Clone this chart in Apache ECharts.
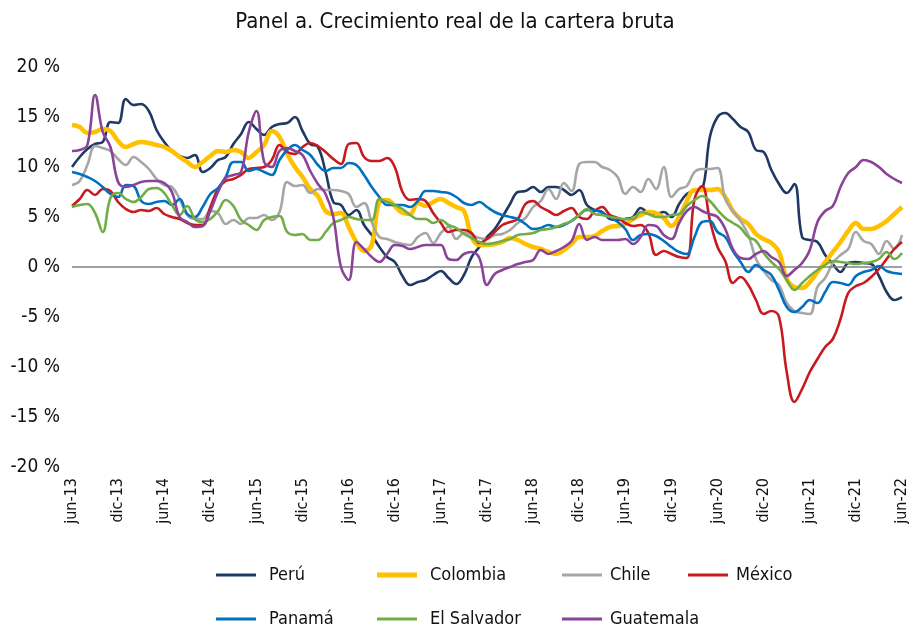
<!DOCTYPE html>
<html>
<head>
<meta charset="utf-8">
<script src="https://cdn.jsdelivr.net/npm/echarts@6/dist/echarts.min.js"></script>
<style>
  html, body { margin: 0; padding: 0; background: #fff; }
  #chart { width: 910px; height: 629px; }
</style>
</head>
<body>
<div id="chart"></div>
<script>
// month labels jun-13 ... jun-22
var monthNames = ['ene', 'feb', 'mar', 'abr', 'may', 'jun', 'jul', 'ago', 'sep', 'oct', 'nov', 'dic'];
var categories = [];
for (var k = 0; k < 109; k++) {
    var m = (5 + k) % 12;
    var y = 13 + Math.floor((5 + k) / 12);
    categories.push(monthNames[m] + '-' + y);
}

var peru = [
    10.0, 11.0, 11.8, 12.3, 12.5, 14.5, 14.4, 16.8, 16.2, 16.3, 15.6, 13.7,
    12.5, 11.6, 11.1, 10.9, 11.2, 9.5, 9.9, 10.7, 11.0, 12.3, 13.3, 14.5,
    13.8, 13.2, 14.0, 14.3, 14.4, 15.0, 13.6, 12.3, 12.0, 9.5, 6.5, 6.2,
    5.2, 5.7, 4.2, 3.2, 2.0, 1.0, 0.5, -0.9, -1.8, -1.5, -1.3, -0.8,
    -0.4, -1.1, -1.7, -0.8, 1.0, 2.0, 3.0, 3.8, 5.0, 6.3, 7.5, 7.6,
    8.0, 7.5, 8.0, 8.0, 7.7, 7.2, 7.7, 6.2, 5.7, 5.5, 4.8, 4.7,
    4.8, 5.0, 5.9, 5.4, 5.3, 5.5, 5.0, 6.3, 7.3, 7.6, 7.8, 13.0,
    15.0, 15.4, 14.8, 14.0, 13.5, 11.7, 11.5, 9.7, 8.3, 7.4, 8.3, 3.0,
    2.7, 2.5, 1.2, 0.3, -0.5, 0.4, 0.5, 0.4, 0.3, -0.9, -2.5, -3.3,
    -3.0
];
var colombia = [
    14.2, 14.0, 13.4, 13.5, 13.8, 13.6, 12.6, 12.0, 12.3, 12.5, 12.4, 12.2,
    12.0, 11.6, 11.0, 10.5, 10.0, 10.5, 11.1, 11.6, 11.5, 11.7, 11.5, 10.9,
    11.5, 12.2, 13.6, 13.0, 11.3, 10.0, 9.0, 7.8, 7.1, 5.6, 5.3, 5.4,
    4.0, 2.5, 1.6, 2.2, 6.5, 6.7, 6.1, 5.4, 5.3, 6.4, 6.1, 6.5,
    6.8, 6.4, 6.0, 5.6, 3.0, 2.2, 2.2, 2.3, 2.5, 2.9, 2.7, 2.3,
    2.0, 1.8, 1.5, 1.3, 1.7, 2.3, 3.0, 3.0, 3.1, 3.6, 4.0, 4.1,
    4.3, 4.8, 5.2, 5.5, 5.4, 4.9, 4.1, 5.0, 6.6, 7.7, 7.7, 7.7,
    7.8, 7.0, 5.6, 4.8, 4.3, 3.3, 2.8, 2.4, 1.5, -1.2, -2.0, -2.1,
    -1.5, -0.5, 0.5, 1.5, 2.5, 3.6, 4.4, 3.8, 3.8, 4.1, 4.6, 5.3,
    6.0
];
var chile = [
    8.2, 8.6, 10.2, 12.1, 11.9, 11.6, 10.8, 10.2, 11.0, 10.5, 9.8, 8.8,
    8.2, 8.0, 6.8, 5.2, 4.8, 4.8, 5.6, 5.4, 4.3, 4.7, 4.3, 4.9,
    4.9, 5.2, 4.7, 5.5, 8.5, 8.1, 8.2, 7.4, 7.8, 7.7, 7.7, 7.6,
    7.3, 6.0, 6.4, 4.5, 3.0, 2.8, 2.5, 2.3, 2.2, 3.0, 3.4, 2.4,
    3.4, 4.0, 2.8, 3.4, 3.2, 2.9, 2.8, 3.2, 3.3, 3.7, 4.4, 4.9,
    6.0, 6.6, 7.8, 6.8, 8.4, 7.6, 10.3, 10.5, 10.5, 10.0, 9.7, 9.0,
    7.3, 8.0, 7.5, 8.8, 7.8, 10.0, 7.0, 7.8, 8.1, 9.5, 9.8, 9.8,
    9.9, 6.8, 5.6, 4.6, 3.2, 0.8, -0.4, -1.3, -1.8, -3.6, -4.4, -4.6,
    -4.7, -2.0, -1.1, 0.4, 1.2, 1.8, 3.5, 2.6, 2.3, 1.3, 2.6, 1.8,
    3.2
];
var mexico = [
    6.1, 6.8, 7.7, 7.2, 7.8, 7.6, 6.5, 5.8, 5.5, 5.7, 5.6, 5.9,
    5.3, 5.0, 4.8, 4.4, 4.2, 4.2, 6.0, 7.8, 8.6, 8.8, 9.2, 9.8,
    9.9, 10.0, 10.7, 12.2, 11.5, 11.3, 12.0, 12.4, 12.1, 11.5, 10.8, 10.3,
    12.3, 12.4, 11.0, 10.6, 10.6, 10.9, 10.0, 7.5, 6.7, 6.8, 6.6, 5.4,
    4.4, 3.5, 3.7, 3.7, 3.4, 2.4, 2.8, 3.5, 4.2, 4.5, 4.8, 6.3,
    6.6, 6.0, 5.6, 5.2, 5.6, 5.9, 5.0, 4.8, 5.6, 6.0, 5.2, 4.9,
    4.4, 4.1, 4.2, 3.4, 1.2, 1.6, 1.3, 1.0, 0.9, 6.8, 8.1, 4.7,
    2.0, 0.6, -1.6, -1.0, -1.8, -3.3, -4.7, -4.4, -5.0, -10.5, -13.5, -12.2,
    -10.5, -9.2, -8.0, -7.2, -5.2, -2.6, -1.9, -1.6, -1.0, -0.2, 0.8, 1.8,
    2.5
];
var panama = [
    9.5, 9.3, 9.0, 8.6, 8.0, 7.3, 7.0, 8.2, 8.1, 6.6, 6.3, 6.5,
    6.6, 6.2, 6.8, 5.3, 5.0, 6.0, 7.3, 7.9, 9.0, 10.5, 10.5, 9.6,
    9.8, 9.5, 9.2, 10.7, 11.7, 12.2, 11.7, 11.2, 10.2, 9.6, 9.9, 9.9,
    10.4, 10.2, 9.2, 8.0, 7.0, 6.2, 6.2, 6.2, 6.0, 6.6, 7.6, 7.6,
    7.5, 7.4, 7.0, 6.4, 6.2, 6.5, 6.0, 5.5, 5.2, 5.0, 4.8, 4.3,
    3.8, 3.9, 4.2, 4.0, 4.2, 4.6, 5.2, 5.7, 5.7, 5.4, 5.0, 4.5,
    3.8, 2.7, 3.2, 3.3, 3.1, 2.6, 2.0, 1.5, 1.3, 3.0, 4.5, 4.6,
    3.5, 3.0, 1.6, 0.5, -0.5, 0.2, -0.3, -0.8, -2.3, -4.0, -4.5, -4.0,
    -3.3, -3.6, -2.5, -1.5, -1.6, -1.8, -0.9, -0.5, -0.3, 0.1, -0.4, -0.6,
    -0.7
];
var elSalvador = [
    6.0, 6.2, 6.3, 5.4, 3.5, 6.9, 7.4, 6.8, 6.5, 7.0, 7.8, 7.9,
    7.4, 6.2, 5.2, 6.1, 4.8, 4.5, 4.8, 5.6, 6.7, 6.1, 4.7, 4.2,
    3.7, 4.7, 5.0, 5.1, 3.5, 3.2, 3.3, 2.7, 2.7, 3.5, 4.4, 4.7,
    5.0, 4.8, 4.7, 4.7, 6.8, 6.5, 6.2, 5.8, 5.2, 4.8, 4.8, 4.4,
    4.7, 4.2, 3.9, 3.3, 2.9, 2.5, 2.3, 2.4, 2.6, 2.8, 3.2, 3.3,
    3.4, 3.7, 3.8, 4.0, 4.3, 4.6, 5.2, 5.8, 5.3, 5.2, 5.0, 4.9,
    4.8, 4.8, 5.5, 5.3, 5.0, 5.0, 5.2, 5.3, 6.1, 6.7, 7.1, 6.6,
    5.7, 4.9, 4.4, 3.9, 3.0, 2.6, 1.4, 0.5, -0.2, -1.3, -2.3, -1.6,
    -0.9, -0.3, 0.2, 0.6, 0.5, 0.4, 0.3, 0.4, 0.5, 0.8, 1.5, 0.8,
    1.4
];
var guatemala = [
    11.6, 11.7, 12.2, 17.2, 13.5, 12.0, 8.5, 8.0, 8.2, 8.5, 8.6, 8.6,
    8.4, 7.5, 5.0, 4.5, 4.0, 4.1, 5.6, 7.5, 8.9, 9.2, 9.5, 13.5,
    15.6, 10.5, 10.0, 11.6, 11.9, 11.6, 11.2, 9.6, 8.3, 7.3, 5.0, 0.0,
    -1.3, 2.5, 1.8, 1.0, 0.5, 1.3, 2.2, 2.1, 1.8, 2.0, 2.2, 2.2,
    2.2, 0.8, 0.7, 1.3, 1.5, 0.9, -1.8, -0.7, -0.3, 0.0, 0.3, 0.5,
    0.7, 1.7, 1.3, 1.6, 2.0, 2.6, 4.3, 2.7, 3.0, 2.7, 2.7, 2.7,
    2.8, 2.3, 3.0, 4.2, 4.1, 3.2, 2.8, 4.4, 5.6, 6.0, 5.6, 5.3,
    5.0, 3.8, 1.8, 0.9, 0.8, 1.3, 1.6, 1.0, 0.5, -0.9, -0.3, 0.4,
    1.7, 4.5, 5.6, 6.1, 8.0, 9.4, 10.0, 10.7, 10.5, 10.0, 9.3, 8.8,
    8.4
];

var seriesNames = ['Perú', 'Colombia', 'Chile', 'México', 'Panamá', 'El Salvador', 'Guatemala'];
var seriesData = [peru, colombia, chile, mexico, panama, elSalvador, guatemala];
var seriesColors = ['#1f3864', '#ffc000', '#a6a6a6', '#c8191e', '#0070c0', '#70ad47', '#8a4399'];
var seriesWidths = [2.6, 4.5, 2.6, 2.6, 2.6, 2.6, 2.6];

var yTicks = { min: -20, max: 20, interval: 5 };

var font = "'Liberation Sans Narrow', 'DejaVu Sans Condensed', sans-serif";

var chartDom = document.getElementById('chart');
var myChart = echarts.init(chartDom);
var option;

// one legend per item so the columns sit where the original has them
var legendPos = [
    [216, 566], [377, 566], [562, 566], [688, 566],
    [216, 610], [377, 610], [562, 610]
];
var legends = seriesNames.map(function (name, i) {
    return {
        data: [name],
        left: legendPos[i][0],
        top: legendPos[i][1],
        icon: 'rect',
        itemWidth: 40,
        itemHeight: i === 1 ? 5 : 3,
        padding: 0,
        textStyle: {
            fontFamily: font,
            fontSize: 18,
            color: '#111',
            padding: (i === 2 || i === 3 || i === 6) ? [0, 0, 0, 3] : [0, 0, 0, 8]
        },
        selectedMode: false
    };
});

var series = seriesNames.map(function (name, i) {
    var s = {
        name: name,
        type: 'line',
        data: seriesData[i],
        smooth: 0.4,
        showSymbol: false,
        symbol: 'none',
        color: seriesColors[i],
        lineStyle: { width: seriesWidths[i], color: seriesColors[i] },
        z: 2 + i
    };
    if (i === 0) {
        s.markLine = {
            silent: true,
            symbol: 'none',
            label: { show: false },
            lineStyle: { color: '#808080', type: 'solid', width: 1.5 },
            data: [{ yAxis: 0 }]
        };
    }
    return s;
});

option = {
    animation: false,
    backgroundColor: '#fff',
    title: {
        text: 'Panel a. Crecimiento real de la cartera bruta',
        left: 'center',
        top: 6,
        textStyle: {
            fontFamily: font,
            fontSize: 22,
            fontWeight: 'normal',
            color: '#111'
        }
    },
    legend: legends,
    grid: {
        left: 72,
        right: 8,
        top: 67,
        bottom: 162
    },
    xAxis: {
        type: 'category',
        data: categories,
        boundaryGap: false,
        axisLine: { show: false },
        axisTick: { show: false },
        splitLine: { show: false },
        axisLabel: {
            interval: 5,
            rotate: 90,
            margin: 11,
            fontFamily: font,
            fontSize: 16,
            color: '#111'
        }
    },
    yAxis: {
        type: 'value',
        min: yTicks.min,
        max: yTicks.max,
        interval: yTicks.interval,
        axisLine: { show: false },
        axisTick: { show: false },
        splitLine: { show: false },
        axisLabel: {
            margin: 12,
            fontFamily: font,
            fontSize: 19,
            color: '#111',
            formatter: '{value} %'
        }
    },
    series: series
};

option && myChart.setOption(option);
</script>
</body>
</html>
